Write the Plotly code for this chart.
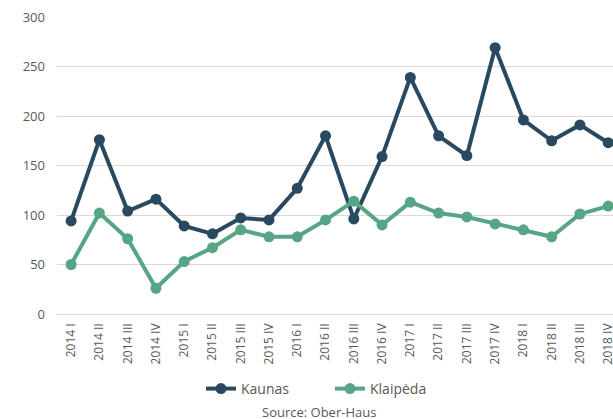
import plotly.graph_objects as go

# Data
quarters = ["2014 I", "2014 II", "2014 III", "2014 IV",
            "2015 I", "2015 II", "2015 III", "2015 IV",
            "2016 I", "2016 II", "2016 III", "2016 IV",
            "2017 I", "2017 II", "2017 III", "2017 IV",
            "2018 I", "2018 II", "2018 III", "2018 IV"]
kaunas = [94, 176, 104, 116, 89, 81, 97, 95, 127, 180,
          96, 159, 239, 180, 160, 269, 196, 175, 191, 173]
klaipeda = [50, 102, 76, 26, 53, 67, 85, 78, 78, 95,
            114, 90, 113, 102, 98, 91, 85, 78, 101, 109]

navy = "#28495f"
green = "#56a585"
grey = "#595959"

idx = list(range(len(quarters)))

fig = go.Figure()
fig.add_trace(go.Scatter(x=idx, y=kaunas, name="Kaunas", mode="lines+markers",
                         line=dict(color=navy, width=4),
                         marker=dict(color=navy, size=11),
                         cliponaxis=False))
fig.add_trace(go.Scatter(x=idx, y=klaipeda, name="Klaipėda", mode="lines+markers",
                         line=dict(color=green, width=4),
                         marker=dict(color=green, size=11),
                         cliponaxis=False))

fig.update_xaxes(tickvals=idx, ticktext=quarters, tickangle=-90,
                 range=[-0.5, 19.17], showgrid=False, zeroline=False,
                 showline=False, ticks="", ticklabelstandoff=6,
                 automargin=False, ticklabeloverflow="allow",
                 tickfont=dict(family="Open Sans", size=12, color=grey))
fig.update_yaxes(range=[0, 300], dtick=50, showgrid=True, gridcolor="#d9d9d9",
                 gridwidth=1, zeroline=True, zerolinecolor="#d9d9d9",
                 zerolinewidth=1, ticks="", ticklabelstandoff=11,
                 automargin=False,
                 tickfont=dict(family="Open Sans", size=13, color=grey))

fig.add_annotation(text="Source: Ober-Haus", xref="paper", yref="paper",
                   x=0.471, y=-0.33, showarrow=False, xanchor="center",
                   yanchor="middle",
                   font=dict(family="Open Sans", size=13, color=grey))

fig.update_layout(
    width=613, height=419,
    margin=dict(l=57, r=0, t=17, b=105, autoexpand=False),
    plot_bgcolor="white", paper_bgcolor="white",
    font=dict(family="Open Sans", size=12, color=grey),
    legend=dict(orientation="h", x=0.259, y=-0.2525, xanchor="left",
                yanchor="middle", font=dict(size=14, color=grey),
                itemwidth=30, entrywidth=84),
    showlegend=True,
)

# page body has a default 8px margin; remove it so the figure sits at 0,0
fig.write_html("out.html", config={"displayModeBar": False},
               post_script="document.body.style.margin='0';")
